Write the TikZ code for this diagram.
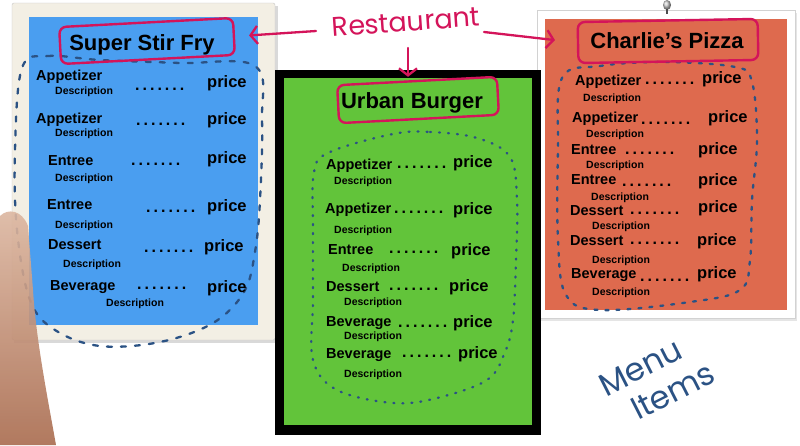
\documentclass[tikz,border=0pt]{standalone}
\usepackage{fontspec}
\setmainfont{Liberation Sans}
\newfontfamily\handfont{Poppins}
\usetikzlibrary{arrows.meta}
\definecolor{menublue}{HTML}{4A9EF0}
\definecolor{menugreen}{HTML}{62C43A}
\definecolor{menuorange}{HTML}{DE6A4E}
\definecolor{ink}{HTML}{D4145A}
\definecolor{blobblue}{HTML}{2B5284}
\definecolor{cream}{HTML}{F3EFE4}
\definecolor{skinlight}{HTML}{DDB8A2}
\definecolor{skindark}{HTML}{A96B4E}
\newcommand\leaderdots{\fontsize{16}{16}\selectfont\bfseries .\kern3pt.\kern3pt.\kern3pt.\kern3pt.\kern3pt.\kern3pt.}
\begin{document}
\begin{tikzpicture}[x=1pt,y=-1pt,
 item/.style={anchor=base west,inner sep=0pt,font=\fontsize{14.5}{16}\selectfont\bfseries},
 desc/.style={anchor=base west,inner sep=0pt,font=\fontsize{10.5}{12}\selectfont\bfseries},
 price/.style={anchor=base west,inner sep=0pt,font=\fontsize{16.5}{18}\selectfont\bfseries},
 leader/.style={anchor=base west,inner sep=0pt},
 title/.style={anchor=base,inner sep=0pt,font=\fontsize{22}{24}\selectfont\bfseries},
 titlebox/.style={draw=ink,line width=2.4pt,rounded corners=7pt,inner sep=0pt},
 blob/.style={draw=blobblue,line width=2.3pt,line cap=round},
 arr/.style={draw=ink,line width=2.3pt,line cap=round,-{Straight Barb[length=7pt,width=18pt]}},
 hand/.style={inner sep=0pt,font=\handfont\fontsize{27}{30}\selectfont}
]
\useasboundingbox (0,0) rectangle (800,445);
\fill[white] (0,0) rectangle (800,445);

% ---- left card (Super Stir Fry)
\fill[gray!30] (14,6) rectangle (278,343);
\filldraw[fill=cream,draw=gray!45,rounded corners=2pt] (12,3) rectangle (275,340);
\fill[menublue] (29,17) rectangle (258,325);
\draw[blob,dash pattern=on 5pt off 9pt] plot[smooth cycle,tension=0.6] coordinates
 {(22,68) (48,56) (100,60) (180,63) (255,66) (262,120) (260,200) (255,252) (244,292) (213,323) (160,342) (100,346) (55,330) (30,300) (17,230) (15,150)};
\node[titlebox,minimum width=174pt,minimum height=37pt,rotate=3] (stirbox) at (147,41) {};
\node[title] (stir) at (142,50) {Super Stir Fry};
\foreach \n/\ix/\iy/\dx/\dy/\ox/\oy/\px/\py [count=\k] in {
 Appetizer/36/80/55/94/135/90/207/87,
 Appetizer/36/123/55/136/136/125/207/124,
 Entree/48/165/55/181/131/165/207/163,
 Entree/47/209/55/228/146/212/207/211,
 Dessert/48/249/63/267/144/252/204/251,
 Beverage/50/290/106/306/137/289/207/292}{
 \node[item] (L\k-i) at (\ix,\iy) {\n};
 \node[desc] (L\k-d) at (\dx,\dy) {Description};
 \node[leader] (L\k-o) at (\ox,\oy) {\leaderdots};
 \node[price] (L\k-p) at (\px,\py) {price};
}

% ---- right card (Charlie's Pizza)
\fill[gray!20] (539,13) rectangle (797,321);
\filldraw[fill=white,draw=gray!35] (537,10) rectangle (795,318);
\fill[menuorange] (545,19) rectangle (787,310);
\shade[ball color=gray!45] (667,5) ellipse (4 and 5);
\fill[black!70] (666,9) rectangle (668,14);
\draw[blob,dash pattern=on 3pt off 8pt] plot[smooth cycle,tension=0.6] coordinates
 {(562,78) (600,66) (663,62) (735,67) (752,82) (757,140) (752,200) (750,260) (740,290) (690,302) (600,310) (566,295) (558,240) (558,150)};
\node[titlebox,minimum width=180pt,minimum height=41pt,rotate=1] (charliebox) at (668,41) {};
\node[title] (charlie) at (667,48) {Charlie’s Pizza};
\foreach \n/\ix/\iy/\dx/\dy/\ox/\oy/\px/\py [count=\k] in {
 Appetizer/575/85/583/101/645/84/702/83,
 Appetizer/572/122/586/137/641/124/708/122,
 Entree/571/154/586/168/625/154/698/154,
 Entree/571/184/591/200/622/186/698/185,
 Dessert/570/215/592/229/630/214/698/212,
 Dessert/570/245/592/263/630/244/697/245,
 Beverage/571/278/592/295/640/281/697/278}{
 \node[item] (R\k-i) at (\ix,\iy) {\n};
 \node[desc] (R\k-d) at (\dx,\dy) {Description};
 \node[leader] (R\k-o) at (\ox,\oy) {\leaderdots};
 \node[price] (R\k-p) at (\px,\py) {price};
}

% ---- middle card (Urban Burger)
\fill[black] (275,70) rectangle (541,435);
\fill[menugreen] (284,78) rectangle (532,425);
\draw[blob,dash pattern=on 1pt off 8pt] plot[smooth cycle,tension=0.6] coordinates
 {(393,134) (430,132) (477,138) (510,157) (517,200) (516,260) (513,320) (505,352) (487,380) (437,398) (393,403) (337,390) (313,360) (313,300) (313,230) (314,172) (330,152)};
\node[titlebox,minimum width=160pt,minimum height=38pt,rotate=3] (urbanbox) at (418,100) {};
\node[title] (urban) at (412,108) {Urban Burger};
\foreach \n/\ix/\iy/\dx/\dy/\ox/\oy/\px/\py [count=\k] in {
 Appetizer/326/169/334/184/397/168/453/167,
 Appetizer/325/213/334/233/394/213/453/214,
 Entree/328/254/342/271/389/253/451/255,
 Dessert/326/291/344/305/389/290/449/291,
 Beverage/326/326/344/339/398/327/453/327,
 Beverage/326/358/344/377/402/357/458/358}{
 \node[item] (M\k-i) at (\ix,\iy) {\n};
 \node[desc] (M\k-d) at (\dx,\dy) {Description};
 \node[leader] (M\k-o) at (\ox,\oy) {\leaderdots};
 \node[price] (M\k-p) at (\px,\py) {price};
}

% ---- handwritten labels and arrows
\node[hand,text=ink,rotate=4] (rest) at (406,22) {Restaurant};
\coordinate (aL) at (316,31);
\coordinate (aR) at (484,32);
\coordinate (aD) at (408,48);
\draw[arr,shorten >=14pt] (aL) -- (stirbox.east);
\draw[arr,shorten >=22pt] (aR) -- (charliebox.west);
\draw[arr,shorten >=3pt] (aD) -- (aD |- urbanbox.north);
\node[hand,text=blobblue,rotate=27,align=left,font=\handfont\fontsize{32}{36}\selectfont] (menuitems) at (657,379) {Menu\\\hspace*{18pt}Items};

% ---- finger in the foreground
\shade[top color=skinlight,bottom color=skindark,opacity=0.9]
 (0,216) .. controls (8,208) and (22,210) .. (28,226)
 -- (33,290) .. controls (36,340) and (48,400) .. (56,445)
 -- (0,445) -- cycle;
\end{tikzpicture}
\end{document}
